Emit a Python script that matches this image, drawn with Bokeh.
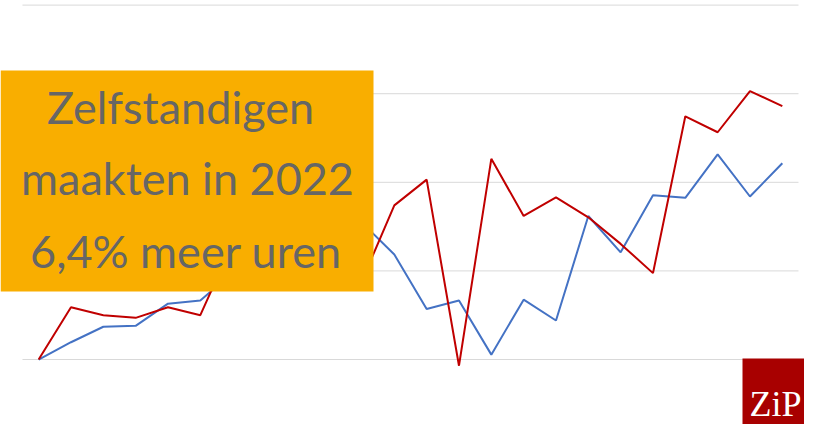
#Hours worked by self-employed vs employees, quarterly index

from bokeh.plotting import figure
from bokeh.models import Range1d, BoxAnnotation, Label
from bokeh.embed import file_html
from bokeh.resources import INLINE

#Data (index, first quarter = 100)

quarters = ["2017 K1", "2017 K2", "2017 K3", "2017 K4",
            "2018 K1", "2018 K2", "2018 K3", "2018 K4",
            "2019 K1", "2019 K2", "2019 K3", "2019 K4",
            "2020 K1", "2020 K2", "2020 K3", "2020 K4",
            "2021 K1", "2021 K2", "2021 K3", "2021 K4",
            "2022 K1", "2022 K2", "2022 K3", "2022 K4"]

zelfstandigen = [100.00, 101.18, 101.00, 100.94, 101.18, 101.00,
                 102.62, 102.73, 102.87, 102.46, 101.78, 103.48,
                 104.06, 99.86, 104.53, 103.24, 103.66, 103.21,
                 102.61, 101.95, 105.49, 105.13, 106.06, 105.72]

werknemers = [100.00, 100.39, 100.74, 100.76, 101.26, 101.33,
              101.96, 102.19, 102.35, 102.57, 103.09, 102.37,
              101.14, 101.33, 100.11, 101.35, 100.88, 103.24,
              102.42, 103.71, 103.65, 104.63, 103.68, 104.43]

grid_values = [100, 102, 104, 106, 108]

headline = ["Zelfstandigen", "maakten in 2022", "6,4% meer uren"]

x = list(range(len(quarters)))

#Create the figure

plot = figure(x_range=Range1d(-1.180, 23.686), y_range=Range1d(98.533, 108.104),
              width=804, height=424, output_backend="svg", toolbar_location=None,
              min_border=0)

plot.xaxis.visible = False
plot.yaxis.visible = False
plot.grid.visible = False
plot.outline_line_color = None
plot.background_fill_color = "white"
plot.border_fill_color = "white"

#Horizontal gridlines, only as wide as the series

n = len(quarters)
plot.segment(x0=[-0.5] * len(grid_values), x1=[n - 0.5] * len(grid_values),
             y0=grid_values, y1=grid_values, line_color="#d9d9d9", line_width=1)

#The two series

plot.line(x, werknemers, line_color="#4472c4", line_width=2)
plot.line(x, zelfstandigen, line_color="#c00000", line_width=2)

#Orange headline box

box = BoxAnnotation(left=0, right=373, top=70, bottom=291,
                    left_units="canvas", right_units="canvas",
                    top_units="canvas", bottom_units="canvas",
                    fill_color="#f9ae00", fill_alpha=1, line_color=None)
plot.add_layout(box)

for line_text, x_pos, y_pos in zip(headline, [4.388, 4.604, 4.558],
                                   [105.711, 104.086, 102.445]):
    plot.add_layout(Label(x=x_pos, y=y_pos, text=line_text, text_align="center",
                          text_baseline="alphabetic", text_font="Lato",
                          text_font_size="45px", text_color="#666666"))

#ZiP logo

logo = BoxAnnotation(left=742, right=804, top=358, bottom=424,
                     left_units="canvas", right_units="canvas",
                     top_units="canvas", bottom_units="canvas",
                     fill_color="#a80000", fill_alpha=1, line_color=None)
plot.add_layout(logo)

plot.add_layout(Label(x=22.79, y=98.99, text="ZiP", text_align="center",
                      text_baseline="alphabetic", text_font="Liberation Serif",
                      text_font_size="36px", text_color="white"))

#Output the plot

open("out.html", "w").write(file_html(plot, INLINE))
